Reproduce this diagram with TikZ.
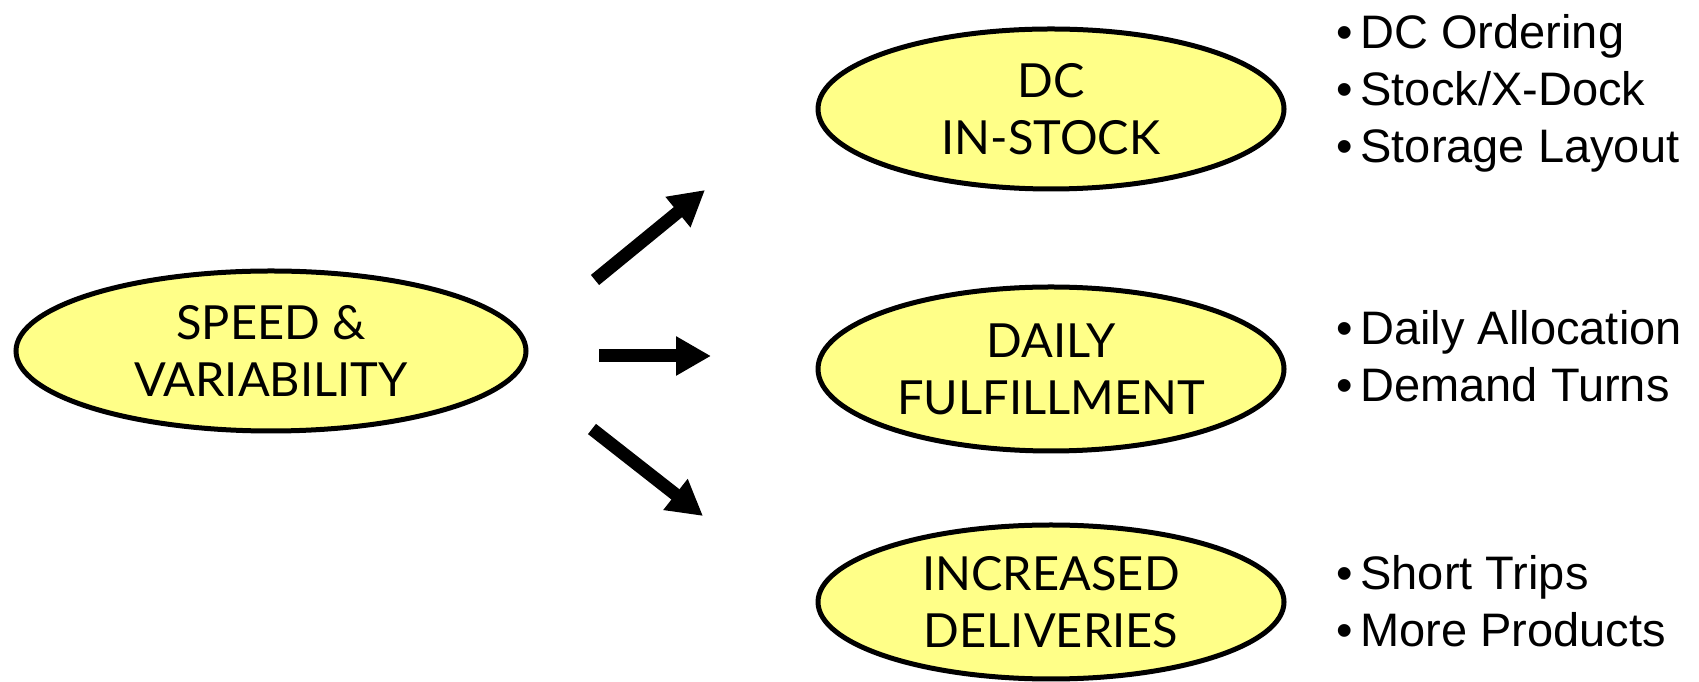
\documentclass[tikz,border=0pt]{standalone}
\usepackage{fontspec}
\setmainfont{Liberation Sans}
\newfontfamily\labelfont{Lato}
\usetikzlibrary{shapes.geometric,arrows.meta}
\definecolor{bubble}{RGB}{255,255,136}
\begin{document}
\begin{tikzpicture}[x=1pt,y=1pt,
  bubble/.style={ellipse,draw=black,line width=5pt,fill=bubble,inner sep=0pt,
    align=center,font=\labelfont\fontsize{47}{57}\selectfont},
  bullets/.style={anchor=west,inner sep=0pt,align=left,
    font=\fontsize{47}{57}\selectfont},
  bigarrow/.style={line width=13pt,-{Triangle[length=35pt,width=37pt]}}]
\useasboundingbox (0,0) rectangle (1699,682);

% source and target bubbles
\node[bubble,minimum width=510pt,minimum height=160pt] (speed) at (271,331) {SPEED \&\\VARIABILITY};
\node[bubble,minimum width=466pt,minimum height=160pt] (dc) at (1051,573) {DC\\IN-STOCK};
\node[bubble,minimum width=466pt,minimum height=164pt] (daily) at (1051,313) {DAILY\\FULFILLMENT};
\node[bubble,minimum width=466pt,minimum height=154pt] (incr) at (1051,80) {INCREASED\\DELIVERIES};

% bullet lists beside each bubble
\node[bullets] (dclist) at (1336,589) {•\,DC Ordering\\•\,Stock/X-Dock\\•\,Storage Layout};
\node[bullets] (dailylist) at (1336,326) {•\,Daily Allocation\\•\,Demand Turns};
\node[bullets] (incrlist) at (1336,81) {•\,Short Trips\\•\,More Products};

% block arrows fanning out from the source bubble
\coordinate (a1s) at (595,402);
\coordinate (a1e) at (705,492);
\coordinate (a2s) at (599,326);
\coordinate (a2e) at (711,326);
\coordinate (a3s) at (592,253);
\coordinate (a3e) at (703,166);
\draw[bigarrow] (a1s) -- (a1e);
\draw[bigarrow] (a2s) -- (a2e);
\draw[bigarrow] (a3s) -- (a3e);
\end{tikzpicture}
\end{document}
